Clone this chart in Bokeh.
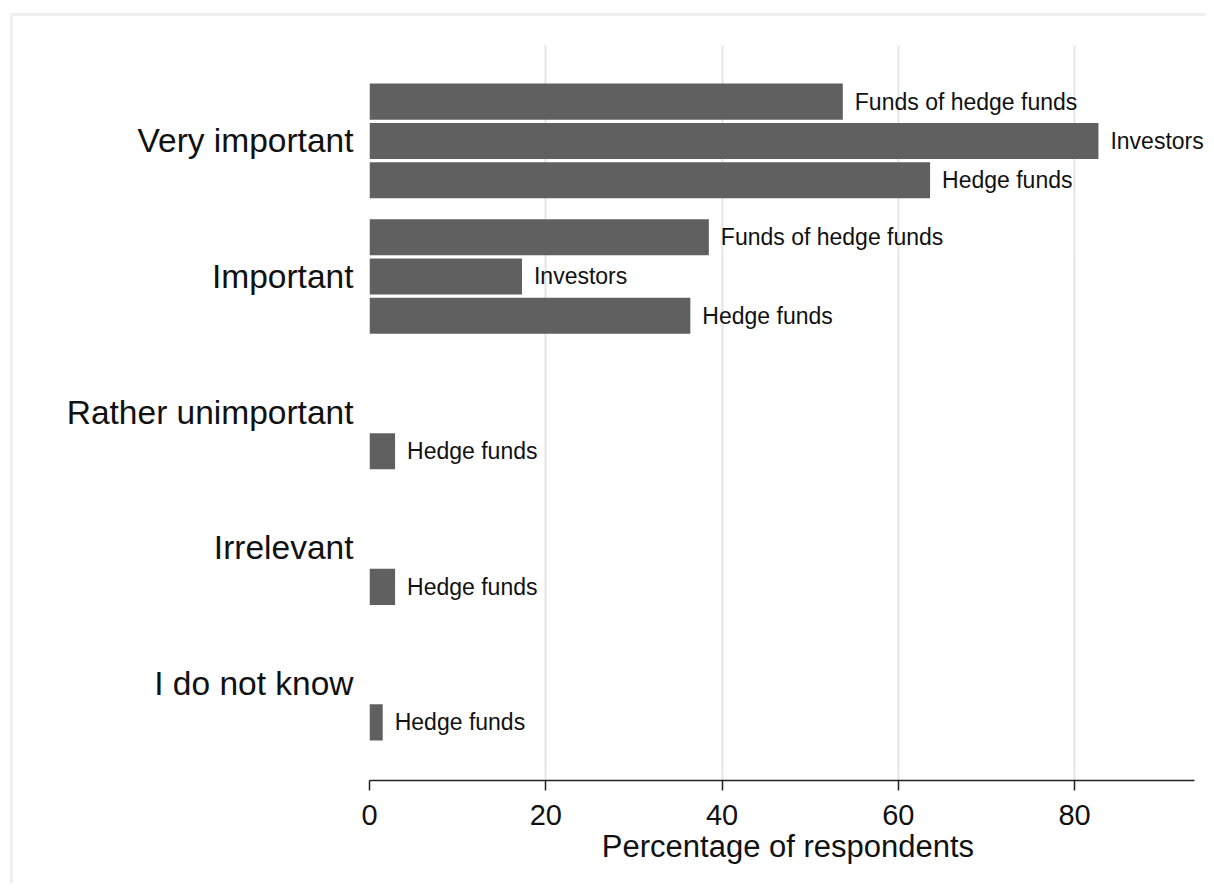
from bokeh.plotting import figure
from bokeh.models import ColumnDataSource, Range1d, FixedTicker, LabelSet, InlineStyleSheet
from bokeh.core.properties import value
from bokeh.embed import file_html
from bokeh.resources import INLINE

# ---- data ----
categories = ["Very important", "Important", "Rather unimportant", "Irrelevant", "I do not know"]
series_names = ["Funds of hedge funds", "Investors", "Hedge funds"]
funds_of_hedge_funds = [53.7, 38.5, None, None, None]
investors = [82.7, 17.3, None, None, None]
hedge_funds = [63.6, 36.4, 2.9, 2.9, 1.5]
x_ticks = [0, 20, 40, 60, 80]
x_axis_max = 93.6
x_title = "Percentage of respondents"

# ---- layout constants ----
GROUP_STEP = 3.45
BAR_H = 0.92
FONT = "Liberation Sans"

series = [funds_of_hedge_funds, investors, hedge_funds]
ys, xs, labels = [], [], []
for g, cat in enumerate(categories):
    for s, vals in enumerate(series):
        v = vals[g]
        if v is None:
            continue
        ys.append(g * GROUP_STEP + s)
        xs.append(v)
        labels.append(series_names[s])
src = ColumnDataSource(dict(y=ys, x=xs, label=labels))

last_y = (len(categories) - 1) * GROUP_STEP + (len(series) - 1)
W, H = 1206, 883
FRAME_L, AXIS_R = 369, 1194
px_per_unit = (AXIS_R - FRAME_L) / x_axis_max
x_end = x_axis_max + (W - AXIS_R) / px_per_unit

frame_css = InlineStyleSheet(css="""
:host::after { content: ''; position: absolute; left: 10px; top: 13px; right: 0; bottom: 0;
  border-top: 3px solid #eeeeee; border-left: 3px solid #eeeeee; pointer-events: none; }
""")

p = figure(width=W, height=H, output_backend="svg", toolbar_location=None,
           x_range=Range1d(0, x_end), y_range=Range1d(last_y + 1.48, -1.43),
           min_border_left=FRAME_L, min_border_right=0, min_border_top=45,
           min_border_bottom=H - 780, stylesheets=[frame_css])
p.outline_line_color = None
p.background_fill_color = "white"
p.border_fill_color = "white"

p.hbar(y="y", left=0, right="x", height=BAR_H, source=src,
       fill_color="#606060", line_color=None)
p.add_layout(LabelSet(x="x", y="y", text="label", source=src, x_offset=12,
                      text_baseline="middle", text_align="left", text_font_size="23px",
                      text_font=value(FONT), text_color="#111111"))

# x axis
xa = p.xaxis[0]
xa.ticker = FixedTicker(ticks=x_ticks)
xa.bounds = (0, x_axis_max)
xa.axis_label = x_title
xa.axis_label_text_font = FONT
xa.axis_label_text_font_size = "31px"
xa.axis_label_text_font_style = "normal"
xa.axis_label_text_color = "#111111"
xa.axis_label_standoff = 1
xa.major_label_text_font = FONT
xa.major_label_text_font_size = "29px"
xa.major_label_text_color = "#111111"
xa.major_label_standoff = 14
xa.major_tick_in = 0
xa.major_tick_out = 10
xa.minor_tick_in = 0
xa.minor_tick_out = 0
xa.axis_line_color = "#222222"
xa.axis_line_width = 1.5
xa.major_tick_line_color = "#222222"
xa.major_tick_line_width = 1.5

# y axis: category labels at middle slot
ya = p.yaxis[0]
mid = [g * GROUP_STEP + 1 for g in range(len(categories))]
ya.ticker = FixedTicker(ticks=mid)
ya.major_label_overrides = {m: c for m, c in zip(mid, categories)}
ya.major_label_text_font = FONT
ya.major_label_text_font_size = "33.5px"
ya.major_label_text_color = "#111111"
ya.major_label_standoff = 10
ya.axis_line_color = None
ya.major_tick_line_color = None
ya.minor_tick_line_color = None

p.xgrid.grid_line_color = "#e4e4e4"
p.xgrid.grid_line_width = 2
p.ygrid.visible = False

open("out.html", "w").write(file_html(p, INLINE))
